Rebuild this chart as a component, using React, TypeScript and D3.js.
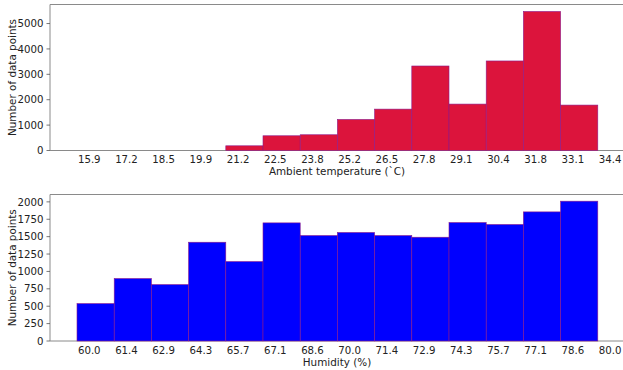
import React from "react";
import * as d3 from "d3";

const tempLabels = ["15.9","17.2","18.5","19.9","21.2","22.5","23.8","25.2","26.5","27.8","29.1","30.4","31.8","33.1","34.4"];
const tempCounts = [0, 0, 0, 0, 185, 580, 620, 1224, 1630, 3328, 1828, 3526, 5475, 1789];
const tempYTicks = [0, 1000, 2000, 3000, 4000, 5000];

const humLabels = ["60.0","61.4","62.9","64.3","65.7","67.1","68.6","70.0","71.4","72.9","74.3","75.7","77.1","78.6","80.0"];
const humCounts = [538, 898, 811, 1420, 1142, 1698, 1516, 1560, 1516, 1492, 1703, 1675, 1856, 2010];
const humYTicks = [0, 250, 500, 750, 1000, 1250, 1500, 1750, 2000];

const W = 623, H = 370;
const FONT = "DejaVu Sans, sans-serif";
const TICK_FS = 10.2;
const TITLE_FS = 10.4;

type PanelProps = {
  labels: string[];
  counts: number[];
  yTicks: number[];
  yMax: number;
  top: number;
  bottom: number;
  color: string;
  xTitle: string;
};

function Panel({ labels, counts, yTicks, yMax, top, bottom, color, xTitle }: PanelProps) {
  const left = 50, right = 624;
  const x = d3.scaleLinear().domain([0, 14]).range([77, 597.8]);
  const y = d3.scaleLinear().domain([0, yMax]).range([bottom, top]);
  const cx = (left + right) / 2;
  const cy = (top + bottom) / 2;
  return (
    <g>
      <line x1={left} x2={right} y1={bottom} y2={bottom} stroke="#8a8a8a" strokeWidth={1} />
      {counts.map((c, i) =>
        c > 0 ? (
          <rect key={i} x={x(i)} y={y(c)} width={x(i + 1) - x(i)} height={bottom - y(c)}
            fill={color} stroke="#8b1a8b" strokeWidth={0.6} />
        ) : null
      )}
      <line x1={left} x2={right} y1={top} y2={top} stroke="#8a8a8a" strokeWidth={1} />
      <line x1={left} x2={left} y1={top} y2={bottom} stroke="#8a8a8a" strokeWidth={1} />
      {yTicks.map((t) => (
        <g key={t}>
          <line x1={left - 3.5} x2={left} y1={y(t)} y2={y(t)} stroke="#555" strokeWidth={0.8} />
          <text x={left - 6.5} y={y(t)} dy="0.36em" textAnchor="end" fontSize={TICK_FS} fill="#222" fontFamily={FONT}>{t}</text>
        </g>
      ))}
      {labels.map((l, i) => (
        <text key={l} x={x(i + 0.33)} y={bottom + 12.5} textAnchor="middle" fontSize={TICK_FS} fill="#222" fontFamily={FONT}>{l}</text>
      ))}
      <text x={cx} y={bottom + 24.5} textAnchor="middle" fontSize={TITLE_FS} fill="#222" fontFamily={FONT}>{xTitle}</text>
      <text transform={`translate(15.5,${cy}) rotate(-90)`} textAnchor="middle" fontSize={TITLE_FS} fill="#222" fontFamily={FONT}>Number of data points</text>
    </g>
  );
}

export default function App() {
  return (
    <svg width={W} height={H} style={{ position: "absolute", left: 0, top: 0, background: "#fff" }}>
      <Panel labels={tempLabels} counts={tempCounts} yTicks={tempYTicks} yMax={5750}
        top={4.5} bottom={150.5} color="#DC143C" xTitle="Ambient temperature (`C)" />
      <Panel labels={humLabels} counts={humCounts} yTicks={humYTicks} yMax={2106}
        top={194.5} bottom={341} color="#0000FF" xTitle="Humidity (%)" />
    </svg>
  );
}
